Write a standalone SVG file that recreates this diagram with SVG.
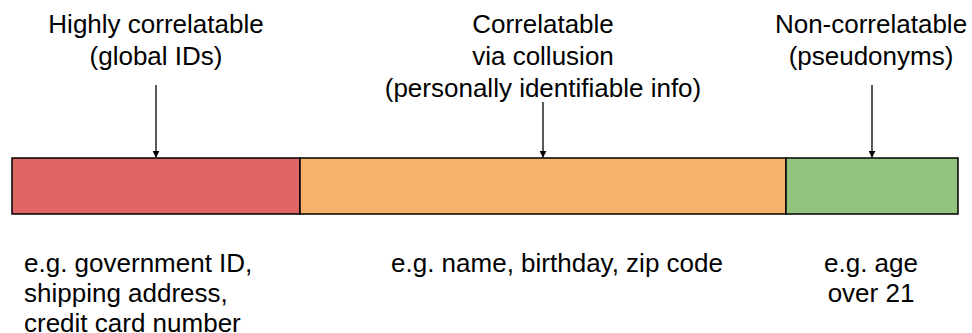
<svg xmlns="http://www.w3.org/2000/svg" width="972" height="333" viewBox="0 0 972 333">
<style>
text{font-family:"Liberation Sans",Arial,sans-serif;font-size:26px;fill:#000}
.c{text-anchor:middle}
.seg{stroke:#000;stroke-width:1.5}
.arr{stroke:#000;stroke-width:1.3;fill:none}
</style>
<defs>
<marker id="ah" viewBox="0 0 10 10" refX="9" refY="5" markerWidth="7" markerHeight="7" markerUnits="userSpaceOnUse" orient="auto"><path d="M0,0 L10,5 L0,10 z" fill="#000"/></marker>
</defs>
<rect width="972" height="333" fill="#fff"/>
<g id="bar-red"><rect class="seg" x="12" y="158" width="288" height="56" fill="#e06666"/></g>
<g id="bar-orange"><rect class="seg" x="300" y="158" width="486" height="56" fill="#f6b26b"/></g>
<g id="bar-green"><rect class="seg" x="786" y="158" width="172" height="56" fill="#93c47d"/></g>
<g id="label-global">
<text class="c" x="156" y="33">Highly correlatable</text>
<text class="c" x="156" y="65">(global IDs)</text>
</g>
<g id="label-collusion">
<text class="c" x="543" y="33">Correlatable</text>
<text class="c" x="543" y="65">via collusion</text>
<text class="c" x="543" y="97">(personally identifiable info)</text>
</g>
<g id="label-pseudo">
<text class="c" x="871" y="33">Non-correlatable</text>
<text class="c" x="871" y="65">(pseudonyms)</text>
</g>
<g id="connectors">
<line class="arr" x1="156" y1="85" x2="156" y2="157" marker-end="url(#ah)"/>
<line class="arr" x1="543" y1="102" x2="543" y2="157" marker-end="url(#ah)"/>
<line class="arr" x1="872" y1="85" x2="872" y2="157" marker-end="url(#ah)"/>
</g>
<g id="ex-global">
<text x="24" y="271.5">e.g. government ID,</text>
<text x="24" y="302">shipping address,</text>
<text x="24" y="332">credit card number</text>
</g>
<g id="ex-collusion"><text class="c" x="557" y="271.5">e.g. name, birthday, zip code</text></g>
<g id="ex-pseudo">
<text class="c" x="871" y="271.5">e.g. age</text>
<text class="c" x="871" y="302">over 21</text>
</g>
</svg>
